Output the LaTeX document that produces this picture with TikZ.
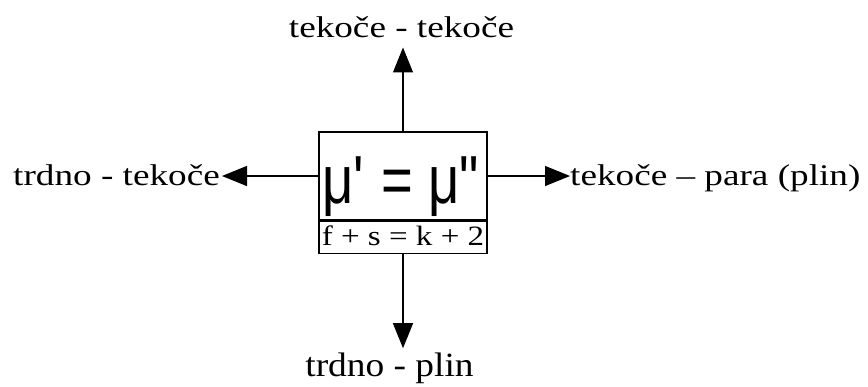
\documentclass[tikz,border=0pt]{standalone}
\usepackage{fontspec}
\setmainfont{Liberation Serif}
\newfontfamily\lblfont[FakeStretch=1.24]{Liberation Serif}
\newfontfamily\lblfontb[FakeStretch=1.1]{Liberation Serif}
\newfontfamily\mufont[FakeStretch=0.8]{Liberation Sans}
\newfontfamily\rulefont[FakeStretch=1.18]{Liberation Serif}
\usetikzlibrary{arrows.meta,positioning}
\tikzset{
  flowarrow/.style={-{Triangle[length=25pt,width=20pt]}, line width=1.2pt, draw=black},
  cellbox/.style={draw=black, line width=1.3pt, inner sep=0pt, minimum width=168pt},
  phase/.style={inner sep=0pt, font=\lblfont\fontsize{30}{36}\selectfont}
}
\begin{document}
\begin{tikzpicture}[x=1pt, y=-1pt]
  \useasboundingbox (0,0) rectangle (868,386);
  \node[cellbox, text height=71pt, text depth=17pt, font=\mufont\fontsize{68}{68}\selectfont] (mu) at (403,176)
    {μ\textquotesingle\ = μ\textquotedbl};
  \node[cellbox, below=0pt of mu, text height=24pt, text depth=8pt, font=\rulefont\fontsize{28}{28}\selectfont] (rule)
    {f + s = k + 2};

  \node[phase, anchor=base] (ll) at (401.5,37) {tekoče - tekoče};
  \node[phase, anchor=base east] (sl) at (220,185) {trdno - tekoče};
  \node[phase, anchor=base west] (lg) at (570,185) {tekoče – para (plin)};
  \node[phase, font=\lblfontb\fontsize{34}{40}\selectfont, anchor=base] (sg) at (389.5,376) {trdno - plin};

  \draw[flowarrow, shorten >=10pt] (mu.north) -- (mu.north |- ll.south);
  \draw[flowarrow, shorten >=2pt] (mu.west) -- (mu.west -| sl.east);
  \draw[flowarrow] (mu.east) -- (mu.east -| lg.west);
  \draw[flowarrow, shorten >=4pt] (rule.south) -- (rule.south |- sg.north);
\end{tikzpicture}
\end{document}
